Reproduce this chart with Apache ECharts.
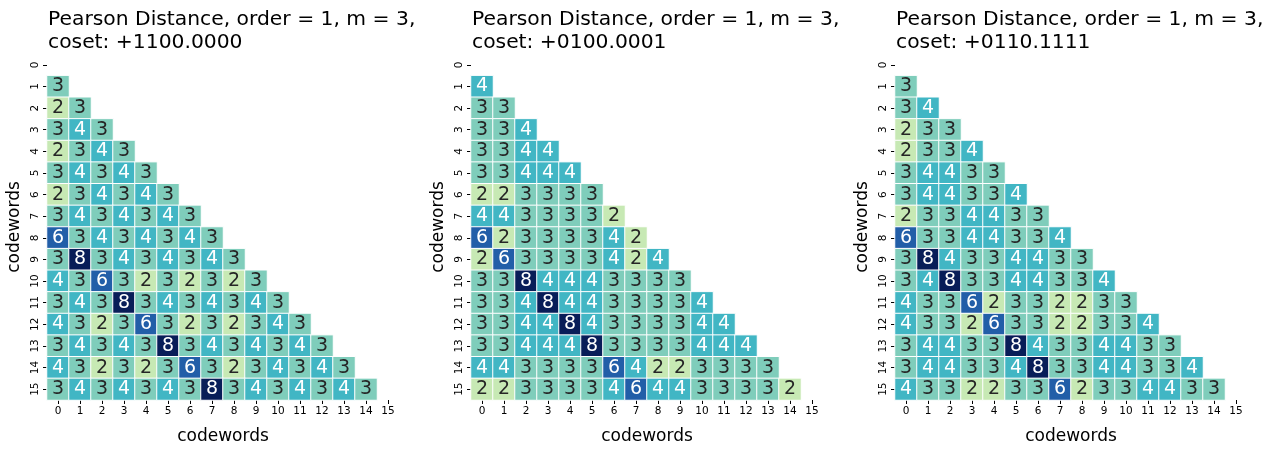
<!DOCTYPE html>
<html>
<head>
<meta charset="utf-8">
<script src="https://cdn.jsdelivr.net/npm/echarts@6/dist/echarts.min.js"></script>
<style>
  html, body { margin: 0; padding: 0; background: #fff; }
  #chart { width: 1277px; height: 450px; }
</style>
</head>
<body>
<div id="chart"></div>
<script>
// codeword indices 0..15 (shared by both axes)
const codewords = ['0','1','2','3','4','5','6','7','8','9','10','11','12','13','14','15']

const cosets = ['+1100.0000', '+0100.0001', '+0110.1111']

// lower triangle, row i holds columns 0..i-1
const distA = [
  [],
  [3],
  [2, 3],
  [3, 4, 3],
  [2, 3, 4, 3],
  [3, 4, 3, 4, 3],
  [2, 3, 4, 3, 4, 3],
  [3, 4, 3, 4, 3, 4, 3],
  [6, 3, 4, 3, 4, 3, 4, 3],
  [3, 8, 3, 4, 3, 4, 3, 4, 3],
  [4, 3, 6, 3, 2, 3, 2, 3, 2, 3],
  [3, 4, 3, 8, 3, 4, 3, 4, 3, 4, 3],
  [4, 3, 2, 3, 6, 3, 2, 3, 2, 3, 4, 3],
  [3, 4, 3, 4, 3, 8, 3, 4, 3, 4, 3, 4, 3],
  [4, 3, 2, 3, 2, 3, 6, 3, 2, 3, 4, 3, 4, 3],
  [3, 4, 3, 4, 3, 4, 3, 8, 3, 4, 3, 4, 3, 4, 3]
]

const distB = [
  [],
  [4],
  [3, 3],
  [3, 3, 4],
  [3, 3, 4, 4],
  [3, 3, 4, 4, 4],
  [2, 2, 3, 3, 3, 3],
  [4, 4, 3, 3, 3, 3, 2],
  [6, 2, 3, 3, 3, 3, 4, 2],
  [2, 6, 3, 3, 3, 3, 4, 2, 4],
  [3, 3, 8, 4, 4, 4, 3, 3, 3, 3],
  [3, 3, 4, 8, 4, 4, 3, 3, 3, 3, 4],
  [3, 3, 4, 4, 8, 4, 3, 3, 3, 3, 4, 4],
  [3, 3, 4, 4, 4, 8, 3, 3, 3, 3, 4, 4, 4],
  [4, 4, 3, 3, 3, 3, 6, 4, 2, 2, 3, 3, 3, 3],
  [2, 2, 3, 3, 3, 3, 4, 6, 4, 4, 3, 3, 3, 3, 2]
]

const distC = [
  [],
  [3],
  [3, 4],
  [2, 3, 3],
  [2, 3, 3, 4],
  [3, 4, 4, 3, 3],
  [3, 4, 4, 3, 3, 4],
  [2, 3, 3, 4, 4, 3, 3],
  [6, 3, 3, 4, 4, 3, 3, 4],
  [3, 8, 4, 3, 3, 4, 4, 3, 3],
  [3, 4, 8, 3, 3, 4, 4, 3, 3, 4],
  [4, 3, 3, 6, 2, 3, 3, 2, 2, 3, 3],
  [4, 3, 3, 2, 6, 3, 3, 2, 2, 3, 3, 4],
  [3, 4, 4, 3, 3, 8, 4, 3, 3, 4, 4, 3, 3],
  [3, 4, 4, 3, 3, 4, 8, 3, 3, 4, 4, 3, 3, 4],
  [4, 3, 3, 2, 2, 3, 3, 6, 2, 3, 3, 4, 4, 3, 3]
]

const panels = [distA, distB, distC]

// YlGnBu
const ylgnbu = ['#ffffd9', '#edf8b1', '#c7e9b4', '#7fcdbb', '#41b6c4', '#1d91c0', '#225ea8', '#253494', '#081d58']

const FONT = 'DejaVu Sans'
const chart = echarts.init(document.getElementById('chart'))

const titles = [], grids = [], xAxes = [], yAxes = [], series = []
panels.forEach((rows, k) => {
  const left = 47 + 424 * k
  titles.push({
    text: 'Pearson Distance, order = 1, m = 3,\ncoset: ' + cosets[k],
    left: left - 4,
    top: 3,
    textStyle: { fontFamily: FONT, fontSize: 20.3, fontWeight: 'normal', color: '#000', lineHeight: 23 }
  })
  grids.push({ left: left, top: 54, width: 352, height: 352 })
  xAxes.push({
    type: 'category', gridIndex: k, data: codewords, position: 'bottom',
    name: 'codewords', nameLocation: 'middle', nameGap: 28,
    nameTextStyle: { fontFamily: FONT, fontSize: 17, color: '#000' },
    axisLine: { show: false },
    axisTick: { show: true, alignWithLabel: true, length: 4, lineStyle: { color: '#000' } },
    axisLabel: { fontFamily: FONT, fontSize: 10.5, color: '#000', margin: 6, interval: 0 },
    splitLine: { show: false }
  })
  yAxes.push({
    type: 'category', gridIndex: k, data: codewords, inverse: true,
    name: 'codewords', nameLocation: 'middle', nameGap: 24,
    nameTextStyle: { fontFamily: FONT, fontSize: 17, color: '#000' },
    axisLine: { show: false },
    axisTick: { show: true, alignWithLabel: true, length: 4, lineStyle: { color: '#000' } },
    axisLabel: { fontFamily: FONT, fontSize: 10.5, color: '#000', margin: 6, rotate: 90, interval: 0 },
    splitLine: { show: false }
  })
  const data = []
  rows.forEach((row, i) => {
    row.forEach((v, j) => {
      data.push({ value: [j, i, v], label: { color: v >= 4 ? '#fff' : '#262626' } })
    })
  })
  series.push({
    type: 'heatmap', xAxisIndex: k, yAxisIndex: k, data: data,
    label: { show: true, fontFamily: FONT, fontSize: 19 },
    itemStyle: { borderColor: '#fff', borderWidth: 1 },
    emphasis: { disabled: true }
  })
})

chart.setOption({
  animation: false,
  title: titles,
  grid: grids,
  xAxis: xAxes,
  yAxis: yAxes,
  visualMap: {
    type: 'continuous', show: false, min: 0, max: 8,
    seriesIndex: [0, 1, 2], dimension: 2,
    inRange: { color: ylgnbu }
  },
  series: series
})
</script>
</body>
</html>
